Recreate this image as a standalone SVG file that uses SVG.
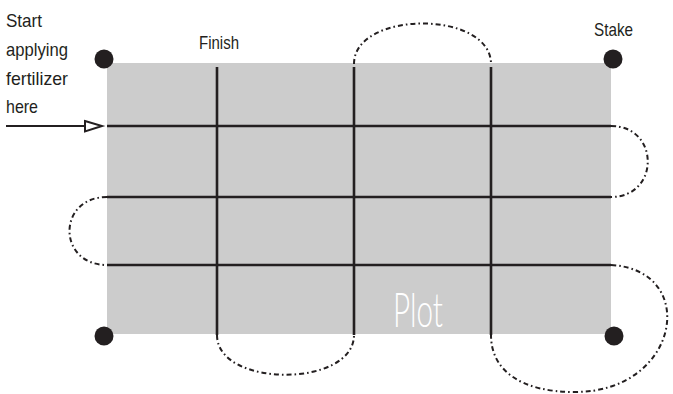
<svg xmlns="http://www.w3.org/2000/svg" width="673" height="394" viewBox="0 0 673 394">
<style>
.lbl{font-family:"Liberation Sans",Arial,sans-serif;font-size:18.5px;fill:#231f20}
.grid{stroke:#231f20;stroke-width:2.6;fill:none}
.path{stroke:#231f20;stroke-width:2;fill:none;stroke-dasharray:5 3 1.6 3}
.stake{fill:#231f20}
</style>
<rect width="673" height="394" fill="#fff"/>
<g id="plot">
<rect x="107" y="63" width="504" height="271" fill="#cccccc"/>
<text x="393" y="327" font-family="Lato,'Liberation Sans',Arial,sans-serif" font-weight="300" font-size="47" fill="#ffffff" textLength="50" lengthAdjust="spacingAndGlyphs">Plot</text>
</g>
<g id="connectors">
<g class="grid">
<line x1="217" y1="67" x2="217" y2="335"/>
<line x1="354" y1="67" x2="354" y2="335"/>
<line x1="491" y1="67" x2="491" y2="335"/>
<line x1="107" y1="126" x2="611" y2="126"/>
<line x1="107" y1="197" x2="611" y2="197"/>
<line x1="107" y1="265" x2="611" y2="265"/>
</g>
<path class="path" d="M354,64 C354,10 491,10 491,64"/>
<path class="path" d="M611,126 C660,126 660,197 611,197"/>
<path class="path" d="M107,197 C57,197 57,265 107,265"/>
<path class="path" d="M217,335 C217,388 354,388 354,335"/>
<path class="path" d="M611,265 C700,270 680,392 575,392 C520,392 491,370 491,335"/>
<line x1="6" y1="126" x2="86" y2="126" stroke="#231f20" stroke-width="2"/>
<polygon points="85,121 102,126 85,131.5" fill="#fff" stroke="#231f20" stroke-width="2"/>
</g>
<g id="stakes">
<circle class="stake" cx="104" cy="59" r="9.5"/>
<circle class="stake" cx="613" cy="59" r="9.5"/>
<circle class="stake" cx="104" cy="336" r="9.5"/>
<circle class="stake" cx="614" cy="336" r="9.5"/>
</g>
<g id="labels">
<text class="lbl" x="6" y="27" textLength="36" lengthAdjust="spacingAndGlyphs">Start</text>
<text class="lbl" x="6" y="56" textLength="62" lengthAdjust="spacingAndGlyphs">applying</text>
<text class="lbl" x="6" y="85" textLength="62" lengthAdjust="spacingAndGlyphs">fertilizer</text>
<text class="lbl" x="6" y="113" textLength="32" lengthAdjust="spacingAndGlyphs">here</text>
<text class="lbl" x="199" y="49" textLength="40" lengthAdjust="spacingAndGlyphs">Finish</text>
<text class="lbl" x="594" y="36" textLength="39" lengthAdjust="spacingAndGlyphs">Stake</text>
</g>
</svg>
